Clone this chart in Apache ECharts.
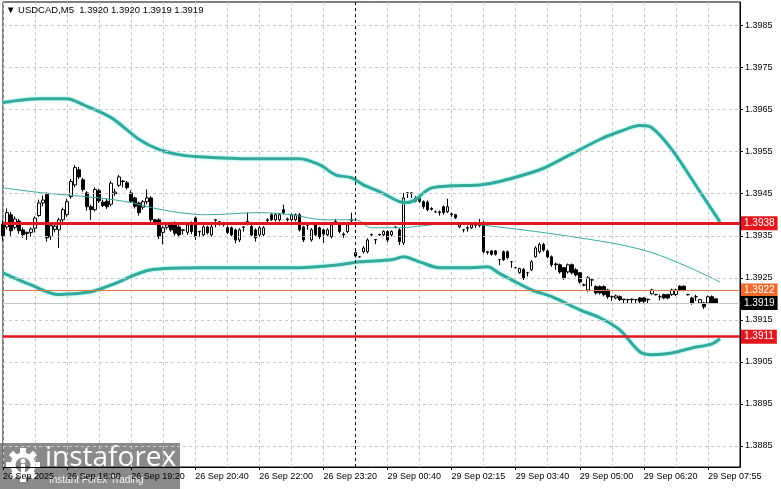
<!DOCTYPE html>
<html>
<head>
<meta charset="utf-8">
<script src="https://cdn.jsdelivr.net/npm/echarts@6/dist/echarts.min.js"></script>
<style>
  html, body { margin: 0; padding: 0; background: #fff; }
  #chart { width: 781px; height: 489px; }
</style>
</head>
<body>
<div id="chart"></div>
<script>
// prices are kept in pips above 1.3900
const BASE = 1.39
const PIP = 0.0001
const SLOTS = 185

const tickLabels = ['26 Sep 2025', '26 Sep 18:00', '26 Sep 19:20', '26 Sep 20:40', '26 Sep 22:00', '26 Sep 23:20',
  '29 Sep 00:40', '29 Sep 02:15', '29 Sep 03:40', '29 Sep 05:00', '29 Sep 06:20', '29 Sep 07:55']
const yTicks = [1.3885, 1.3895, 1.3905, 1.3915, 1.3925, 1.3935, 1.3945, 1.3955, 1.3965, 1.3975, 1.3985]

// candles (pips)
const opens = [37.8, 37.1, 40.0, 37.0, 38.5, 36.4, 35.5, 35.8, 36.8, 39.8, 42.8, 44.8, 34.8, 36.5, 36.4, 38.8, 40.0, 44.3, 47.1, 50.7,
  48.3, 45.2, 41.9, 41.2, 45.7, 43.0, 43.2, 42.5, 45.0, 47.0, 48.0, 47.6, 45.2, 44.0, 42.8, 41.8, 43.1, 44.0, 38.8, 38.8,
  35.8, 37.0, 37.6, 37.6, 37.1, 36.4, 35.8, 38.0, 39.2, 36.0, 35.2, 37.1, 35.2, 38.8, 38.3, 38.0, 36.9, 36.9, 36.4, 34.0,
  37.1, 38.3, 37.2, 36.4, 35.2, 35.3, 38.6, 40.0, 38.8, 38.8, 41.2, 39.0, 38.8, 38.8, 40.0, 37.1, 37.6, 34.0, 37.6, 36.9,
  36.4, 35.2, 34.8, 38.3, 37.6, 35.4, 36.0, 38.6, 30.2, 30.0, 31.2, 31.2, 35.3, 34.0, 35.3, 35.2, 36.0, 35.2, 37.1, 36.4,
  33.3, 45.2, 45.0, 43.2, 44.0, 43.1, 43.0, 41.5, 40.7, 40.5, 41.9, 40.7, 40.0, 40.0, 37.1, 36.4, 36.9, 36.9, 37.6, 37.4,
  38.1, 31.2, 31.4, 31.4, 29.3, 31.2, 31.2, 28.8, 27.4, 26.2, 27.0, 26.2, 26.9, 30.0, 31.2, 32.9, 31.4, 30.0, 28.3, 28.1,
  27.4, 26.4, 28.1, 26.9, 26.2, 23.3, 22.1, 24.5, 22.9, 22.9, 22.9, 22.1, 20.5, 20.2, 20.5, 19.9, 19.8, 19.9, 19.8, 20.2,
  20.2, 19.9, 21.2, 21.0, 20.5, 21.0, 21.0, 21.0, 21.0, 23.0, 23.0, 21.0, 20.2, 20.5, 19.0, 19.0, 19.0, 20.5, 20.0]
const closes = [35.0, 40.5, 36.2, 39.0, 36.2, 35.3, 35.8, 36.6, 39.2, 42.8, 43.5, 34.5, 37.4, 37.3, 38.8, 41.2, 43.1, 47.9, 51.2, 49.0,
  46.0, 41.9, 41.2, 46.0, 43.3, 42.2, 41.9, 47.5, 45.4, 49.0, 47.9, 46.5, 43.2, 42.0, 40.5, 43.1, 44.0, 38.8, 38.3, 34.8,
  36.9, 37.6, 36.4, 35.6, 35.2, 36.3, 37.6, 36.0, 34.8, 35.9, 37.1, 35.7, 37.1, 38.7, 38.2, 37.6, 35.8, 35.2, 34.0, 36.4,
  37.0, 38.4, 35.2, 34.5, 36.9, 36.9, 38.8, 38.8, 40.0, 40.0, 40.5, 38.8, 40.0, 40.0, 36.4, 34.0, 37.5, 36.4, 35.2, 34.8,
  35.4, 36.4, 37.6, 38.4, 36.0, 35.2, 37.6, 38.9, 31.0, 30.0, 32.1, 34.0, 35.2, 34.1, 35.2, 36.0, 34.0, 36.0, 37.0, 33.6,
  44.0, 45.2, 45.2, 44.0, 43.2, 41.9, 41.2, 41.3, 40.7, 40.7, 40.5, 41.9, 40.2, 39.3, 37.6, 36.4, 36.8, 37.6, 37.5, 38.1,
  31.2, 31.0, 30.6, 30.6, 29.3, 29.3, 29.8, 28.8, 27.4, 27.2, 25.0, 26.2, 28.8, 32.1, 32.9, 31.6, 30.0, 28.1, 28.1, 26.4,
  25.0, 28.1, 26.2, 25.7, 24.0, 23.3, 25.0, 24.5, 21.4, 21.4, 21.0, 20.5, 20.5, 20.7, 19.8, 19.8, 19.8, 19.8, 19.8, 19.4,
  19.4, 19.8, 22.1, 21.0, 20.5, 20.2, 20.2, 22.1, 22.1, 22.1, 22.1, 21.0, 19.0, 20.5, 19.8, 18.1, 20.5, 19.0, 19.0]
const lows = [33.8, 36.5, 35.0, 36.5, 35.5, 34.5, 34.0, 34.8, 35.8, 39.5, 42.0, 33.6, 34.0, 35.8, 32.1, 38.3, 39.5, 43.8, 46.5, 48.5,
  45.5, 41.0, 38.8, 40.8, 42.8, 41.8, 41.4, 42.0, 44.5, 46.6, 46.5, 46.0, 42.8, 41.5, 39.8, 41.2, 42.5, 38.2, 37.8, 34.2,
  33.0, 36.5, 36.0, 35.0, 34.6, 35.3, 35.2, 35.4, 34.0, 34.8, 34.8, 35.3, 34.8, 37.0, 37.4, 37.2, 35.4, 34.8, 33.2, 33.5,
  36.0, 37.5, 34.8, 33.6, 34.8, 34.8, 38.2, 38.5, 38.4, 38.4, 40.0, 38.4, 38.4, 38.4, 36.0, 33.5, 36.4, 33.6, 34.8, 34.2,
  33.3, 34.8, 34.4, 37.6, 35.6, 34.5, 35.6, 37.8, 29.8, 29.8, 30.8, 30.8, 35.0, 33.0, 35.0, 34.9, 33.5, 34.8, 36.8, 32.8,
  32.8, 44.0, 44.0, 42.9, 42.8, 41.4, 40.8, 41.0, 40.4, 39.8, 40.0, 40.4, 39.5, 39.0, 36.8, 35.8, 36.0, 36.6, 36.8, 37.0,
  30.8, 30.5, 30.3, 30.3, 28.0, 29.0, 29.4, 27.4, 27.2, 26.0, 24.5, 25.3, 26.6, 29.8, 30.8, 31.2, 29.6, 27.6, 26.9, 26.0,
  24.5, 26.0, 25.8, 25.3, 23.6, 23.0, 21.7, 23.0, 21.0, 21.0, 20.6, 20.0, 19.5, 19.9, 19.5, 18.9, 18.9, 19.0, 18.9, 19.0,
  19.0, 19.0, 21.0, 20.8, 19.6, 19.9, 19.9, 20.7, 20.7, 21.8, 21.8, 20.8, 18.6, 19.5, 18.8, 17.6, 18.8, 18.8, 19.0]
const highs = [38.6, 41.5, 40.6, 39.6, 39.0, 37.0, 36.0, 37.0, 39.6, 43.6, 44.6, 45.3, 38.0, 38.2, 39.3, 41.7, 43.8, 48.5, 51.8, 51.4,
  48.8, 45.6, 42.4, 46.5, 46.2, 43.6, 43.8, 48.0, 46.2, 49.5, 48.3, 48.0, 45.8, 44.3, 43.1, 43.5, 46.0, 44.4, 39.0, 39.2,
  37.4, 38.0, 38.0, 38.4, 37.6, 36.6, 38.0, 38.4, 39.6, 36.2, 37.5, 37.4, 37.6, 39.0, 38.5, 38.3, 37.4, 37.2, 36.7, 36.8,
  37.3, 40.5, 37.6, 36.8, 37.3, 37.3, 39.2, 40.4, 40.4, 40.4, 42.4, 39.3, 40.3, 40.3, 40.4, 37.4, 37.8, 36.8, 38.0, 37.2,
  36.7, 36.8, 38.0, 39.0, 38.0, 35.8, 38.0, 40.5, 31.4, 30.2, 32.5, 34.4, 35.5, 34.2, 35.5, 36.3, 36.3, 36.3, 37.3, 36.8,
  45.2, 45.4, 45.4, 44.4, 44.3, 43.4, 43.4, 41.8, 41.0, 41.0, 42.2, 43.8, 40.5, 40.2, 37.9, 36.6, 37.4, 38.0, 38.3, 39.0,
  38.5, 31.4, 31.6, 31.6, 29.5, 31.5, 31.5, 29.0, 27.6, 27.4, 27.3, 26.4, 29.2, 32.5, 33.4, 33.3, 31.7, 30.3, 28.6, 28.4,
  27.6, 28.4, 28.4, 27.3, 26.4, 23.6, 25.4, 24.7, 23.2, 23.2, 23.2, 22.4, 20.8, 21.0, 20.8, 20.0, 20.0, 20.1, 20.0, 20.4,
  20.4, 20.0, 22.4, 21.2, 21.0, 21.2, 21.2, 22.4, 22.4, 23.2, 23.2, 21.2, 20.5, 21.0, 20.0, 19.3, 20.8, 20.8, 20.0]

// Bollinger bands read at sample bars (bar index, pips)
const upperIdx = [0, 9, 16, 20, 27, 34, 39, 44, 49, 62, 74, 79, 83, 87, 90, 94, 99, 101, 103, 105, 107, 112, 119, 124, 134, 139, 149, 154, 159, 162, 167, 174, 179]
const upperVal = [66.7, 67.6, 67.6, 66.2, 63.1, 57.9, 55.5, 54.3, 53.8, 53.3, 53.3, 51.9, 49.5, 48.8, 47.1, 45.5, 43.1, 42.9, 43.6, 45.2, 46.4, 46.9, 47.1, 47.9, 50.7, 53.0, 57.9, 59.8, 61.2, 60.7, 55.5, 45.5, 38.3]
const midIdx = [0, 10, 24, 32, 37, 44, 51, 64, 72, 80, 88, 92, 99, 105, 112, 119, 133, 144, 154, 162, 171, 179]
const midVal = [46.4, 45.2, 44.0, 42.9, 41.7, 40.5, 40.0, 40.5, 40.0, 38.8, 38.8, 36.9, 36.9, 37.4, 38.1, 37.6, 36.0, 34.5, 32.9, 31.0, 27.6, 24.0]
const lowerIdx = [0, 7, 14, 22, 27, 37, 49, 74, 84, 89, 97, 100, 104, 109, 117, 121, 124, 127, 132, 137, 144, 149, 154, 159, 162, 167, 172, 177, 179]
const lowerVal = [26.2, 23.3, 21.0, 21.7, 23.3, 26.9, 27.4, 27.4, 28.1, 28.8, 29.3, 30.0, 28.8, 27.4, 27.4, 27.6, 26.0, 24.5, 22.1, 20.5, 17.4, 15.5, 12.6, 7.4, 6.7, 7.1, 8.3, 9.3, 10.5]

// level lines
const redLevels = [1.3938, 1.3911]
const orangeLevel = 1.3922
const bidLevel = 1.3919
const separatorBar = 88

const toPrice = p => +(BASE + p * PIP).toFixed(5)
const categories = Array.from({ length: SLOTS }, (_, i) => String(i))
const candles = opens.map((o, i) => [toPrice(o), toPrice(closes[i]), toPrice(lows[i]), toPrice(highs[i])])
const band = (idx, val) => idx.map((b, i) => [b, toPrice(val[i])])
const midBand = band(midIdx, midVal)

const FONT = 'Liberation Sans'
const tag = (bg, txt) => ({
  show: true, position: 'end', distance: 1, formatter: txt,
  backgroundColor: bg, color: '#fff', padding: [2, 3, 2, 3],
  fontSize: 10, fontFamily: FONT
})
// invisible carrier for mark lines
const carrier = (z, markLine) => ({
  type: 'line', data: midBand, symbol: 'none', silent: true, z,
  lineStyle: { opacity: 0 }, tooltip: { show: false },
  markLine: Object.assign({ silent: true, symbol: 'none', animation: false, precision: 5, label: { show: false } }, markLine)
})

const chart = echarts.init(document.getElementById('chart'))

chart.setOption({
  animation: false,
  backgroundColor: '#fff',
  grid: { left: 2, right: 41, top: 2, bottom: 22, show: true, borderColor: '#000', borderWidth: 1 },
  xAxis: {
    type: 'category',
    data: categories,
    boundaryGap: false,
    axisLine: { lineStyle: { color: '#000' } },
    axisTick: { show: true, interval: 15, length: 3, lineStyle: { color: '#000' } },
    axisLabel: {
      interval: 15, align: 'left', margin: 5, fontSize: 9, fontFamily: FONT, color: '#000',
      formatter: (v, i) => tickLabels[i / 16] || ''
    },
    splitLine: { show: true, interval: 7, lineStyle: { color: '#c8c8c8', type: [3, 3] } }
  },
  yAxis: {
    type: 'value',
    position: 'right',
    min: 1.388,
    max: 1.39906,
    scale: true,
    splitLine: { show: false },
    axisLine: { show: true, lineStyle: { color: '#000' } },
    axisTick: { show: true, length: 3, customValues: yTicks, lineStyle: { color: '#000' } },
    axisLabel: {
      customValues: yTicks, margin: 5, fontSize: 9, fontFamily: FONT, color: '#000',
      formatter: v => v.toFixed(4)
    }
  },
  series: [
    carrier(0, {
      lineStyle: { color: '#c8c8c8', type: [3, 3], width: 1 },
      data: yTicks.map(v => ({ yAxis: v }))
    }),
    {
      type: 'candlestick',
      data: candles,
      barWidth: 3,
      z: 2,
      itemStyle: { color: '#fff', color0: '#000', borderColor: '#000', borderColor0: '#000', borderWidth: 1 }
    },
    {
      type: 'line', data: band(upperIdx, upperVal), smooth: 0.3, symbol: 'none', z: 3,
      lineStyle: { color: '#33a99b', width: 3, shadowColor: 'rgba(120,235,230,0.9)', shadowBlur: 3 }
    },
    {
      type: 'line', data: midBand, smooth: 0.3, symbol: 'none', z: 3,
      lineStyle: { color: '#3aa99c', width: 1 }
    },
    {
      type: 'line', data: band(lowerIdx, lowerVal), smooth: 0.3, symbol: 'none', z: 3,
      lineStyle: { color: '#33a99b', width: 3, shadowColor: 'rgba(120,235,230,0.9)', shadowBlur: 3 }
    },
    carrier(4, {
      data: [
        { xAxis: separatorBar, lineStyle: { color: '#000', type: [3, 3], width: 1 } },
        { yAxis: orangeLevel, lineStyle: { color: '#e0773f', type: 'solid', width: 1 }, label: tag('#f26a2b', '1.3922') },
        { yAxis: bidLevel, lineStyle: { color: '#c4c4c4', type: 'solid', width: 1 }, label: tag('#000', '1.3919') },
        { yAxis: redLevels[0], lineStyle: { color: '#e2161d', type: 'solid', width: 3 }, label: tag('#e2161d', '1.3938') },
        { yAxis: redLevels[1], lineStyle: { color: '#e2161d', type: 'solid', width: 2.5 }, label: tag('#e2161d', '1.3911') }
      ]
    })
  ],
  graphic: [
    {
      type: 'text', left: 6, top: 5, z: 10,
      style: { text: '\u25BC USDCAD,M5  1.3920 1.3920 1.3919 1.3919', fontSize: 9.5, fontFamily: FONT, fill: '#000' }
    },
    {
      type: 'group', left: 0, top: 443, z: 20,
      children: [
        { type: 'rect', shape: { x: 0, y: 0, width: 180, height: 46 }, style: { fill: 'rgba(105,105,105,0.78)' } },
        { type: 'circle', shape: { cx: 23, cy: 22, r: 10 }, style: { fill: 'none', stroke: '#fff', lineWidth: 5 } },
        ...Array.from({ length: 8 }, (_, k) => ({
          type: 'rect', x: 23, y: 22, rotation: k * Math.PI / 4,
          shape: { x: -3, y: -17, width: 6, height: 6 }, style: { fill: '#fff' }
        })),
        { type: 'circle', shape: { cx: 23, cy: 18, r: 2.5 }, style: { fill: '#fff' } },
        { type: 'rect', shape: { x: 21, y: 21, width: 4, height: 9 }, style: { fill: '#fff' } },
        { type: 'text', x: 45, y: 1, style: { text: 'instaforex', fontSize: 28, fontFamily: 'Open Sans', fill: '#fff' } },
        { type: 'text', x: 49, y: 32, style: { text: 'Instant Forex Trading', fontSize: 10, fontFamily: FONT, fill: 'rgba(255,255,255,0.9)' } }
      ]
    }
  ]
})
</script>
</body>
</html>
